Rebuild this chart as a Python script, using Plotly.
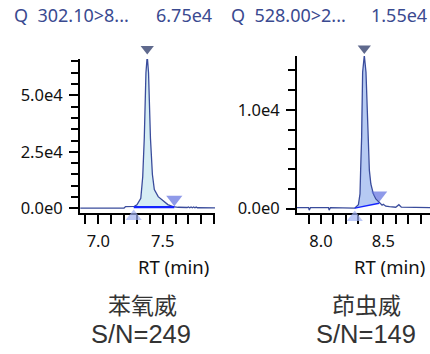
import plotly.graph_objects as go

W, H = 430, 354

# ---------------- data ----------------
# Left: 苯氧威 (Q 302.10>8...)
rt_a = [6.86, 7.00, 7.10, 7.20, 7.212, 7.28, 7.30, 7.33, 7.345, 7.357, 7.37, 7.38,
        7.39, 7.405, 7.42, 7.435, 7.465, 7.50, 7.54, 7.58, 7.62, 7.69, 7.70, 7.71,
        7.72, 7.73, 7.74, 7.75, 7.76, 7.77, 7.80, 7.906]
int_a = [150, 150, 150, 150, 800, 900, 1600, 4500, 14000, 31000, 60000, 67500,
         60000, 31000, 15000, 8300, 5200, 3500, 1700, 800, 500, 400, 650, 300,
         650, 300, 650, 300, 600, 300, 300, 250]
peak_a = dict(apex_rt=7.380, apex=67500, start=7.275, end=7.59,
              base_start=550, base_end=550)
title_a = ["Q  302.10>8...", "6.75e4"]
name_a = ["苯氧威", "S/N=249"]
xrange_a = [6.858, 7.906]
yrange_a = [-2174, 66090]
xticks_a = [7.0, 7.5]
yticks_a = [0, 25000, 50000]

# Right: 茚虫威 (Q 528.00>2...)
rt_b = [7.807, 7.90, 7.905, 7.915, 8.06, 8.065, 8.075, 8.27, 8.30, 8.313, 8.318,
        8.326, 8.334, 8.3475, 8.361, 8.377, 8.388, 8.40, 8.42, 8.44, 8.468, 8.49,
        8.50, 8.52, 8.55, 8.60, 8.625, 8.645, 8.875]
int_b = [100, 100, -150, 100, 100, -150, 100, 50, 400, 1500, 3900,
         7200, 13800, 15500, 13800, 7200, 3900, 2500, 1500, 1000, 650, 350,
         450, 250, 200, 150, 400, 150, 100]
peak_b = dict(apex_rt=8.3475, apex=15500, start=8.271, end=8.467,
              base_start=60, base_end=557)
title_b = ["Q  528.00>2...", "1.55e4"]
name_b = ["茚虫威", "S/N=149"]
xrange_b = [7.807, 8.875]
yrange_b = [-467, 15437]
xticks_b = [8.0, 8.5]
yticks_b = [0, 10000]

# ---------------- style ----------------
LINE = "#3a4c9c"
BASE = "#1424ff"
FILL_A = "#d6edf4"
FILL_B = "#b6caf3"
APEX_C = "#1b2a5c"
START_C = "#9fb0f4"
END_C = "#5f6fe0"
TITLE_C = "#3a4a90"
FONT = "Noto Sans"

PLOT_BOTTOM = 217          # px of x-axis line
TOPS = {1: 60, 2: 57}      # px of y-axis top
EXT_TOP, EXT_BOT = 30, 240  # px extent of invisible marker axes


def sci(v):
    if v == 0:
        return "0.0e0"
    e = len(str(int(abs(v)))) - 1
    return f"{v / 10 ** e:.1f}e{e}"


fig = go.Figure()


def add_panel(i, rt, inten, pk, yr, fill_col, base_w):
    xa = "x" if i == 1 else "x2"
    ya = "y" if i == 1 else "y2"
    ym = "y3" if i == 1 else "y4"
    span = yr[1] - yr[0]
    seg_x = [x for x in rt if pk["start"] < x < pk["end"]]
    seg_y = [y for x, y in zip(rt, inten) if pk["start"] < x < pk["end"]]
    fig.add_trace(go.Scatter(
        x=[pk["start"]] + seg_x + [pk["end"]],
        y=[pk["base_start"]] + seg_y + [pk["base_end"]],
        fill="toself", fillcolor=fill_col, mode="lines",
        line=dict(width=0), xaxis=xa, yaxis=ya, hoverinfo="skip"))
    fig.add_trace(go.Scatter(x=rt, y=inten, mode="lines",
                             line=dict(color=LINE, width=1.3),
                             xaxis=xa, yaxis=ya))
    fig.add_trace(go.Scatter(x=[pk["start"], pk["end"]],
                             y=[pk["base_start"], pk["base_end"]],
                             mode="lines", line=dict(color=BASE, width=base_w),
                             xaxis=xa, yaxis=ya))
    fig.add_trace(go.Scatter(
        x=[pk["apex_rt"], pk["start"], pk["end"]],
        y=[pk["apex"] + 0.045 * span,
           pk["base_start"] - 0.06 * span,
           pk["base_end"] + 0.052 * span],
        mode="markers", cliponaxis=False,
        marker=dict(symbol=["triangle-down", "triangle-up", "triangle-down"],
                    size=[11.5, 14, 14], color=[APEX_C, START_C, END_C],
                    line=dict(width=0)),
        xaxis=xa, yaxis=ym))


add_panel(1, rt_a, int_a, peak_a, yrange_a, FILL_A, 2.2)
add_panel(2, rt_b, int_b, peak_b, yrange_b, FILL_B, 1.5)


def ext_range(yr, top_px):
    per_px = (yr[1] - yr[0]) / (PLOT_BOTTOM - top_px)
    return [yr[0] - (EXT_BOT - PLOT_BOTTOM) * per_px,
            yr[1] + (top_px - EXT_TOP) * per_px]


axis_common = dict(showgrid=False, zeroline=False, showline=True,
                   linecolor="black", linewidth=2, ticks="outside",
                   tickcolor="black", tickwidth=2, ticklabelstandoff=3,
                   tickfont=dict(family=FONT, size=16.5, color="#111"))
hidden = dict(visible=False, showgrid=False, zeroline=False,
              domain=[(H - EXT_BOT) / H, (H - EXT_TOP) / H])

fig.update_layout(
    width=W, height=H, margin=dict(l=0, r=0, t=0, b=0),
    paper_bgcolor="white", plot_bgcolor="rgba(0,0,0,0)", showlegend=False,
    xaxis=dict(domain=[80 / W, 215 / W], range=xrange_a, anchor="y",
               tickmode="array", tickvals=xticks_a,
               ticktext=[f"{v:.1f}" for v in xticks_a], ticklen=9,
               minor=dict(tickmode="linear", tick0=7.0, dtick=0.1, ticklen=9,
                          tickwidth=2, tickcolor="black", ticks="outside"),
               **axis_common),
    yaxis=dict(domain=[(H - PLOT_BOTTOM) / H, (H - TOPS[1]) / H], range=yrange_a,
               anchor="x", tickmode="array", tickvals=yticks_a,
               ticktext=[sci(v) for v in yticks_a], ticklen=9,
               minor=dict(tickmode="linear", tick0=0, dtick=5000, ticklen=7,
                          tickwidth=2, tickcolor="black", ticks="outside"),
               **axis_common),
    xaxis2=dict(domain=[297 / W, 1.0], range=xrange_b, anchor="y2",
                tickmode="array", tickvals=xticks_b,
                ticktext=[f"{v:.1f}" for v in xticks_b], ticklen=9,
                minor=dict(tickmode="linear", tick0=8.0, dtick=0.1, ticklen=9,
                           tickwidth=2, tickcolor="black", ticks="outside"),
                **axis_common),
    yaxis2=dict(domain=[(H - PLOT_BOTTOM) / H, (H - TOPS[2]) / H], range=yrange_b,
                anchor="x2", tickmode="array", tickvals=yticks_b,
                ticktext=[sci(v) for v in yticks_b], ticklen=9,
                minor=dict(tickmode="linear", tick0=0, dtick=2000, ticklen=7,
                           tickwidth=2, tickcolor="black", ticks="outside"),
                **axis_common),
    yaxis3=dict(range=ext_range(yrange_a, TOPS[1]), anchor="x", **hidden),
    yaxis4=dict(range=ext_range(yrange_b, TOPS[2]), anchor="x2", **hidden),
)


def ann(text, x, y, xanchor, size, color, family=FONT):
    fig.add_annotation(text=text, x=x / W, y=1 - y / H, xref="paper", yref="paper",
                       xanchor=xanchor, yanchor="middle", showarrow=False,
                       font=dict(family=family, size=size, color=color))


# titles
ann(title_a[0], 12, 15, "left", 18, TITLE_C)
ann(title_a[1], 214, 15, "right", 18, TITLE_C)
ann(title_b[0], 229, 15, "left", 18, TITLE_C)
ann(title_b[1], 429, 15, "right", 18, TITLE_C)
# axis titles
ann("RT (min)", 211, 271, "right", 18.5, "#111")
ann("RT (min)", 427, 271, "right", 18.5, "#111")
# compound labels
ann(name_a[0], 142, 309, "center", 23, "#333", "Noto Sans CJK SC")
ann(name_a[1], 141, 340, "center", 25.5, "#333", "Liberation Sans")
ann(name_b[0], 366, 309, "center", 23, "#333", "Noto Sans CJK SC")
ann(name_b[1], 366, 340, "center", 25.5, "#333", "Liberation Sans")

fig.write_html("out.html", config={"displayModeBar": False},
               post_script="document.body.style.margin='0px';")
